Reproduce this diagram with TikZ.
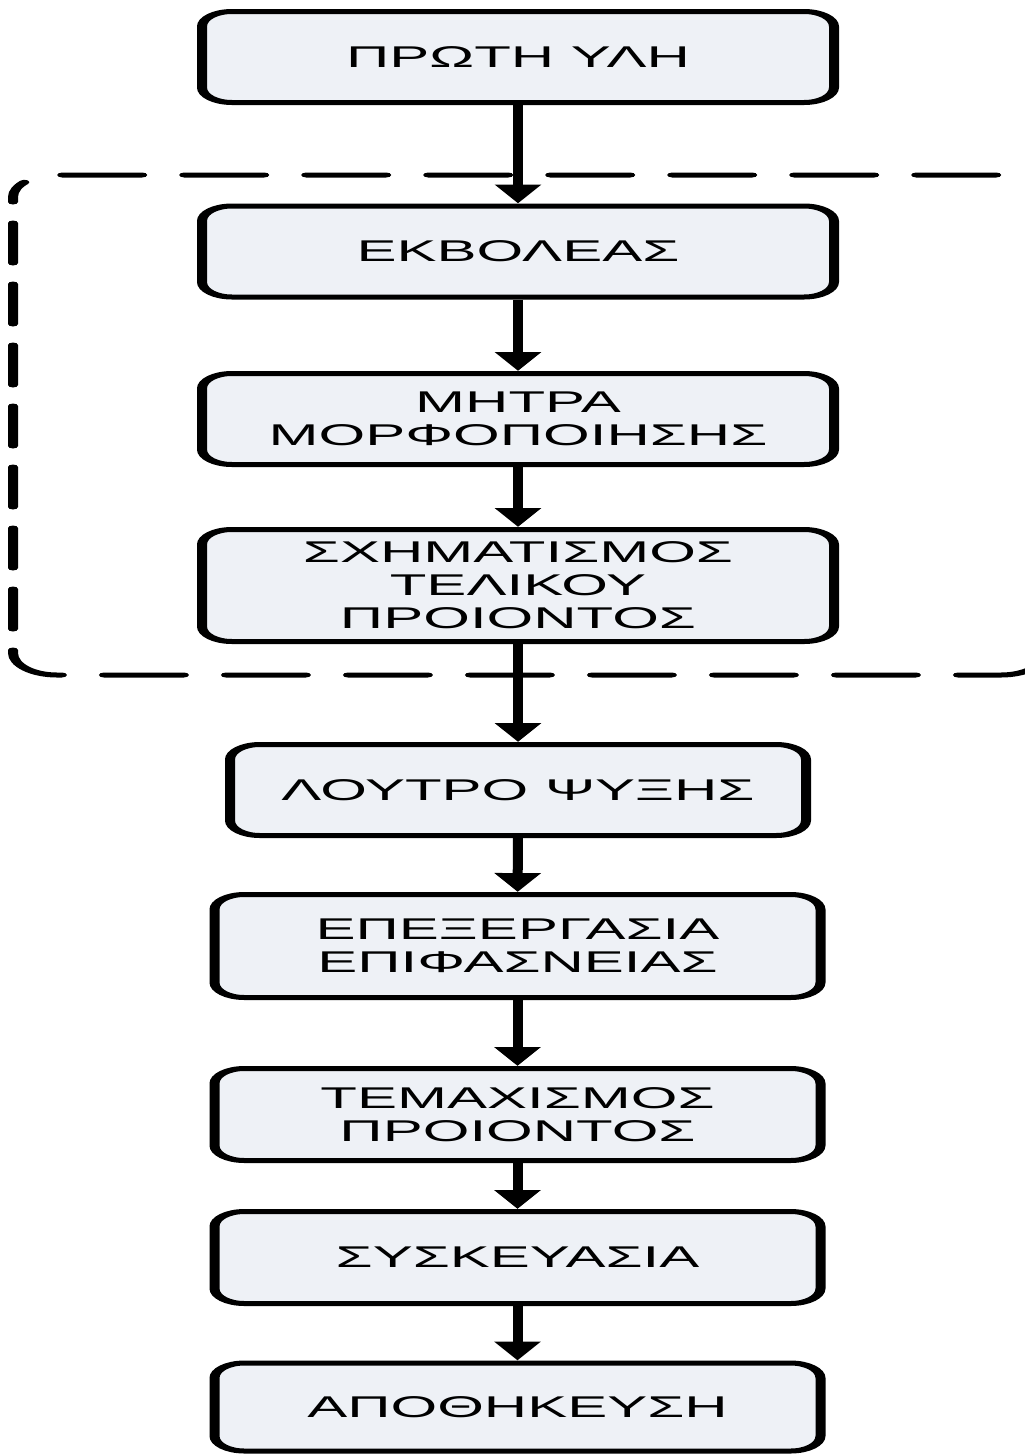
\documentclass[tikz,border=0pt]{standalone}
\usepackage{fontspec}
\setmainfont{Liberation Sans}
\usepackage{xcolor}
\usepackage{tikz}
\usetikzlibrary{arrows.meta}
\definecolor{ink}{HTML}{000000}
\definecolor{pale}{HTML}{EEF1F6}

\tikzset{
  stage/.style={draw=ink,fill=pale,line width=5pt,rounded corners=15pt,align=center,
    minimum width=316pt,minimum height=91pt,inner sep=0pt,
    font=\fontsize{30}{33}\selectfont},
  flow/.style={draw=ink,line width=5pt,-{Triangle[length=19pt,width=22pt]}},
  group/.style={draw=ink,line width=5pt,rounded corners=22pt,line cap=round,
    dash pattern=on 40pt off 21pt,dash phase=35pt}
}

\begin{document}
\begin{tikzpicture}[x=1pt,y=-1pt]
\useasboundingbox (0,0) rectangle (1025,1454);
% drawn at half width, then stretched sideways
\begin{scope}[x=0.5pt,transform canvas={xscale=2}]
\node[stage] (raw) at (518,57) {ΠΡΩΤΗ ΥΛΗ};
\node[stage] (extruder) at (518,251.5) {ΕΚΒΟΛΕΑΣ};
\node[stage] (die) at (518,419) {ΜΗΤΡΑ\\ΜΟΡΦΟΠΟΙΗΣΗΣ};
\node[stage,minimum height=112pt] (forming) at (518,585.5) {ΣΧΗΜΑΤΙΣΜΟΣ\\ΤΕΛΙΚΟΥ\\ΠΡΟΙΟΝΤΟΣ};
\node[stage,minimum width=288pt] (cooling) at (518,790) {ΛΟΥΤΡΟ ΨΥΞΗΣ};
\node[stage,minimum width=303pt,minimum height=103pt] (surface) at (517.5,946) {ΕΠΕΞΕΡΓΑΣΙΑ\\ΕΠΙΦΑΣΝΕΙΑΣ};
\node[stage,minimum width=303pt,minimum height=92pt] (cutting) at (517.5,1114.5) {ΤΕΜΑΧΙΣΜΟΣ\\ΠΡΟΙΟΝΤΟΣ};
\node[stage,minimum width=303pt,minimum height=92pt] (packing) at (517.5,1257.5) {ΣΥΣΚΕΥΑΣΙΑ};
\node[stage,minimum width=303pt,minimum height=88pt] (storage) at (517.5,1407) {ΑΠΟΘΗΚΕΥΣΗ};
\foreach \a/\b in {raw/extruder,extruder/die,die/forming,forming/cooling,
  cooling/surface,surface/cutting,cutting/packing,packing/storage}
  \draw[flow] (\a) -- (\b);
% the extrusion line
\draw[group] (13,175) rectangle (1045,675);
\end{scope}
\end{tikzpicture}
\end{document}
